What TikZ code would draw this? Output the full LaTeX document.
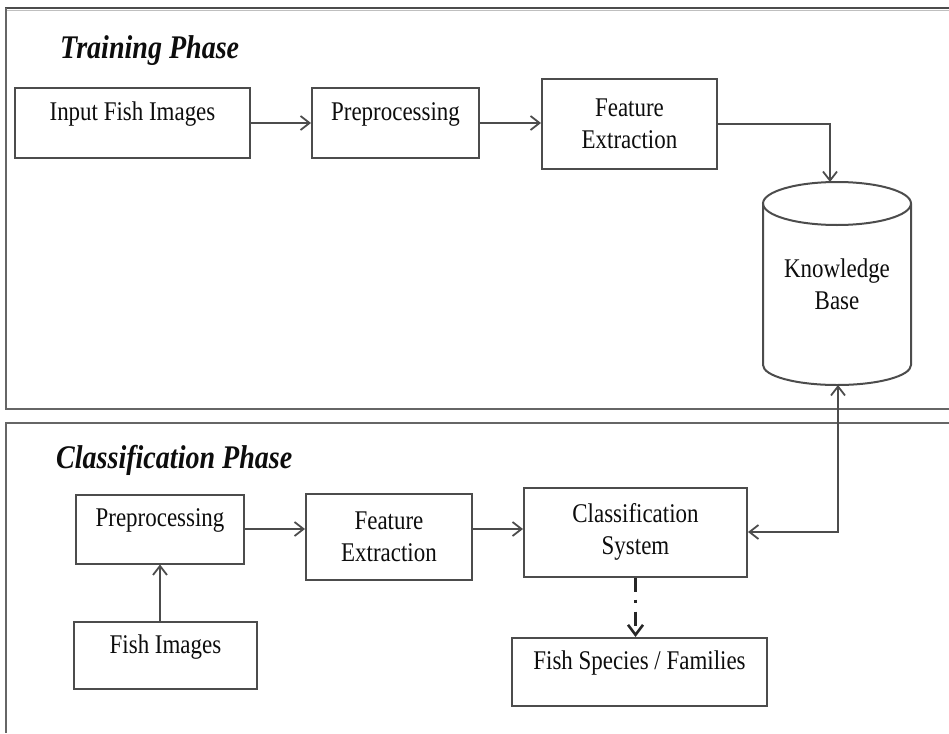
\documentclass[tikz,border=0pt]{standalone}
\usepackage{fontspec}
\setmainfont[FakeStretch=0.85]{Liberation Serif}
\usetikzlibrary{arrows.meta,calc}
\begin{document}
\begin{tikzpicture}[x=1pt,y=-1pt,
  lbl/.style={text=black!95, font=\fontsize{27}{32}\selectfont, align=center, inner sep=0pt},
  box/.style={lbl, draw=black!70, line width=2pt, fill=white},
  oneline/.style={text height=19pt, text depth=24pt},
  flow/.style={draw=black!70, line width=1.8pt, -{Straight Barb[length=9pt,width=14pt]}},
  frame/.style={draw=black!60, line width=2.2pt},
  phase/.style={font=\fontsize{33}{36}\selectfont\bfseries\itshape, text=black!95,
    anchor=base west, inner sep=0pt}
]
\useasboundingbox (0,0) rectangle (949,733);

% panel frames
\draw[black!70, line width=2.5pt] (5,8) -- (949,8);
\draw[black!25, line width=1pt] (5,10.5) -- (949,10.5);
\draw[frame] (6,8) -- (6,409) -- (949,409);
\draw[frame] (949,423) -- (6,423) -- (6,733);

% phase titles
\node[phase] (tp) at (60,59) {Training Phase};
\node[phase] (cp) at (56,468) {Classification Phase};

% knowledge base drum
\draw[draw=black!70, line width=2pt, fill=white]
  (763,203.5) -- (763,365) arc[start angle=180, end angle=0, x radius=74, y radius=20]
  -- (911,203.5);
\draw[draw=black!70, line width=2pt] (837,203.5) ellipse [x radius=74, y radius=21.5];
\node[lbl] (kb) at (837,284) {Knowledge\\Base};
\coordinate (kbtop) at (830,182);
\coordinate (kbbot) at (838,385);

% training phase
\node[box, oneline, minimum width=235, minimum height=70] (ifi) at (132.5,123) {Input Fish Images};
\node[box, oneline, minimum width=167, minimum height=70] (pre1) at (395.5,123) {Preprocessing};
\node[box, minimum width=175, minimum height=89] (fe1) at (629.5,124) {Feature\\Extraction};

\draw[flow] (ifi.east) -- (pre1.west);
\draw[flow] (pre1.east) -- (pre1.east -| fe1.west);
\draw[flow] (fe1.east) -| (kbtop);

% classification phase
\node[box, oneline, minimum width=168, minimum height=69] (pre2) at (160,529) {Preprocessing};
\node[box, minimum width=166, minimum height=86] (fe2) at (389,537) {Feature\\Extraction};
\node[box, minimum width=223, minimum height=89] (cs) at (635.5,532) {Classification\\System};
\node[box, oneline, minimum width=183, minimum height=67] (fim) at (165.5,655.5) {Fish Images};
\node[box, oneline, minimum width=255, minimum height=68] (fsf) at (639.5,672) {Fish Species / Families};

\draw[flow] (pre2.south |- fim.north) -- (pre2.south);
\draw[flow] (pre2.east) -- (pre2.east -| fe2.west);
\draw[flow] (pre2.east -| fe2.east) -- (pre2.east -| cs.west);
\draw[flow, {Straight Barb[length=9pt,width=14pt]}-{Straight Barb[length=9pt,width=14pt]}]
  (cs.east) -| (kbbot);
\draw[draw=black!85, line width=2.6pt, dash pattern=on 14pt off 8pt on 3pt off 9pt,
  -{Straight Barb[length=10pt,width=15pt,line width=2.6pt]}]
  (cs.south) -- (cs.south |- fsf.north);
\end{tikzpicture}
\end{document}
